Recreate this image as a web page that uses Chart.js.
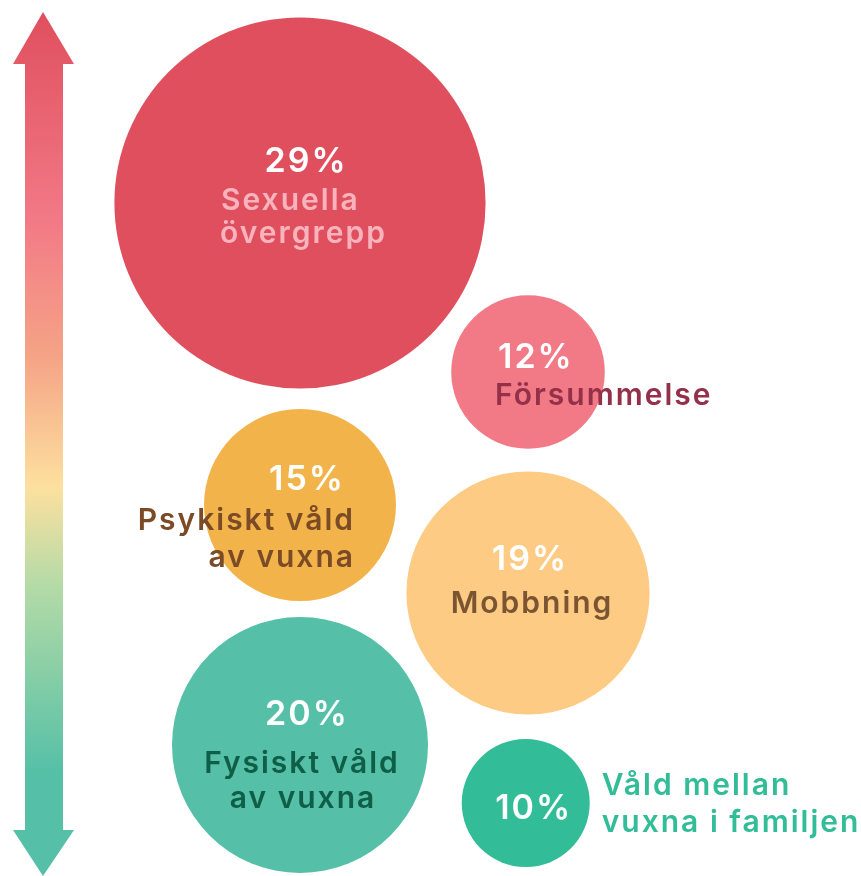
<!DOCTYPE html>
<html>
<head>
<meta charset="utf-8">
<script src="https://cdn.jsdelivr.net/npm/chart.js@4"></script>
<style>
  body { margin: 0; background: #fff; }
  #wrap { width: 861px; height: 876px; position: relative; }
</style>
</head>
<body>
<div id="wrap"><canvas id="mycanvas"></canvas></div>
<script>
// data
var categories = ['Sexuella övergrepp', 'Försummelse', 'Psykiskt våld av vuxna', 'Mobbning', 'Fysiskt våld av vuxna', 'Våld mellan vuxna i familjen'];
var percent = [29, 12, 15, 19, 20, 10];
var column = [0, 1, 0, 1, 0, 0.99];
var row = [2.03, 3.72, 5.05, 5.93, 7.45, 8.03];

var bubbleColors = ['#e04f5e', '#f27986', '#f2b44a', '#fdcb84', '#55c0a7', '#33bc98'];
var textColors = ['#f9b3bd', '#93304a', '#7b4a26', '#7a5532', '#0f5e47', '#33bc98'];

// text lines per bubble, offsets from the bubble centre
var labelLines = [
  [{pct: true, dx: 6, dy: -31, align: 'center'}, {t: 'Sexuella', dx: -79, dy: 7, align: 'left'}, {t: 'övergrepp', dx: -80, dy: 40, align: 'left'}],
  [{pct: true, dx: -30, dy: -4, align: 'left'}, {t: 'Försummelse', dx: -33, dy: 33, align: 'left'}],
  [{pct: true, dx: 7, dy: -15, align: 'center'}, {t: 'Psykiskt våld', dx: 55, dy: 25, align: 'right'}, {t: 'av vuxna', dx: 55, dy: 62, align: 'right'}],
  [{pct: true, dx: 2, dy: -23, align: 'center'}, {t: 'Mobbning', dx: 4, dy: 20, align: 'center'}],
  [{pct: true, dx: 7, dy: -20, align: 'center'}, {t: 'Fysiskt våld', dx: 2, dy: 28, align: 'center'}, {t: 'av vuxna', dx: 3, dy: 63, align: 'center'}],
  [{pct: true, dx: 8, dy: 16, align: 'center'}, {t: 'Våld mellan', dx: 76, dy: -8, align: 'left'}, {t: 'vuxna i familjen', dx: 76, dy: 29, align: 'left'}]
];

var points = [];
for (var i in categories) {
  points.push({x: column[i], y: row[i]});
}

// gradient arrow on the left
var arrowPlugin = {
  id: 'arrow',
  beforeDatasetsDraw: function(chart) {
    var c = chart.ctx;
    var top = 12, bottom = 876, cx = 43;
    var g = c.createLinearGradient(0, top, 0, bottom);
    g.addColorStop(0, '#e04f5e');
    g.addColorStop(0.24, '#f27986');
    g.addColorStop(0.40, '#f5a486');
    g.addColorStop(0.55, '#fde09f');
    g.addColorStop(0.66, '#b6dba6');
    g.addColorStop(0.88, '#55c0a7');
    g.addColorStop(1, '#55c0a7');
    c.save();
    c.fillStyle = g;
    c.beginPath();
    c.moveTo(cx, top);
    c.lineTo(cx + 31, 64);
    c.lineTo(63, 64);
    c.lineTo(63, 830);
    c.lineTo(cx + 31, 830);
    c.lineTo(cx, bottom);
    c.lineTo(cx - 30, 830);
    c.lineTo(25, 830);
    c.lineTo(25, 64);
    c.lineTo(cx - 30, 64);
    c.closePath();
    c.fill();
    c.restore();
  }
};

var labelPlugin = {
  id: 'bubbleLabels',
  afterDatasetsDraw: function(chart) {
    var c = chart.ctx;
    var meta = chart.getDatasetMeta(0);
    c.save();
    c.textBaseline = 'alphabetic';
    meta.data.forEach(function(el, i) {
      labelLines[i].forEach(function(l) {
        if (l.pct) {
          c.font = '600 34px Inter';
          c.letterSpacing = '2px';
          c.fillStyle = '#ffffff';
        } else {
          c.font = '600 30px Inter';
          c.letterSpacing = '2px';
          c.fillStyle = textColors[i];
        }
        c.textAlign = l.align;
        var txt = l.pct ? percent[i] + '%' : l.t;
        c.fillText(txt, el.x + l.dx, el.y + l.dy);
      });
    });
    c.restore();
  }
};

var ctx = document.getElementById('mycanvas');
var bubbleChart = new Chart(ctx, {
  type: 'bubble',
  data: {
    labels: categories,
    datasets: [{
      label: 'Andel',
      data: points,
      backgroundColor: bubbleColors,
      hoverBackgroundColor: bubbleColors,
      borderWidth: 0,
      clip: false,
      radius: function(context) {
        return percent[context.dataIndex] * 6.4;
      }
    }]
  },
  options: {
    responsive: true,
    maintainAspectRatio: false,
    animation: false,
    layout: { padding: 0, autoPadding: false },
    events: [],
    plugins: {
      legend: { display: false },
      tooltip: { enabled: false }
    },
    scales: {
      x: { display: false, min: -1.3158, max: 2.4605 },
      y: { display: false, min: 0, max: 8.76, reverse: true }
    }
  },
  plugins: [arrowPlugin, labelPlugin]
});
</script>
</body>
</html>
